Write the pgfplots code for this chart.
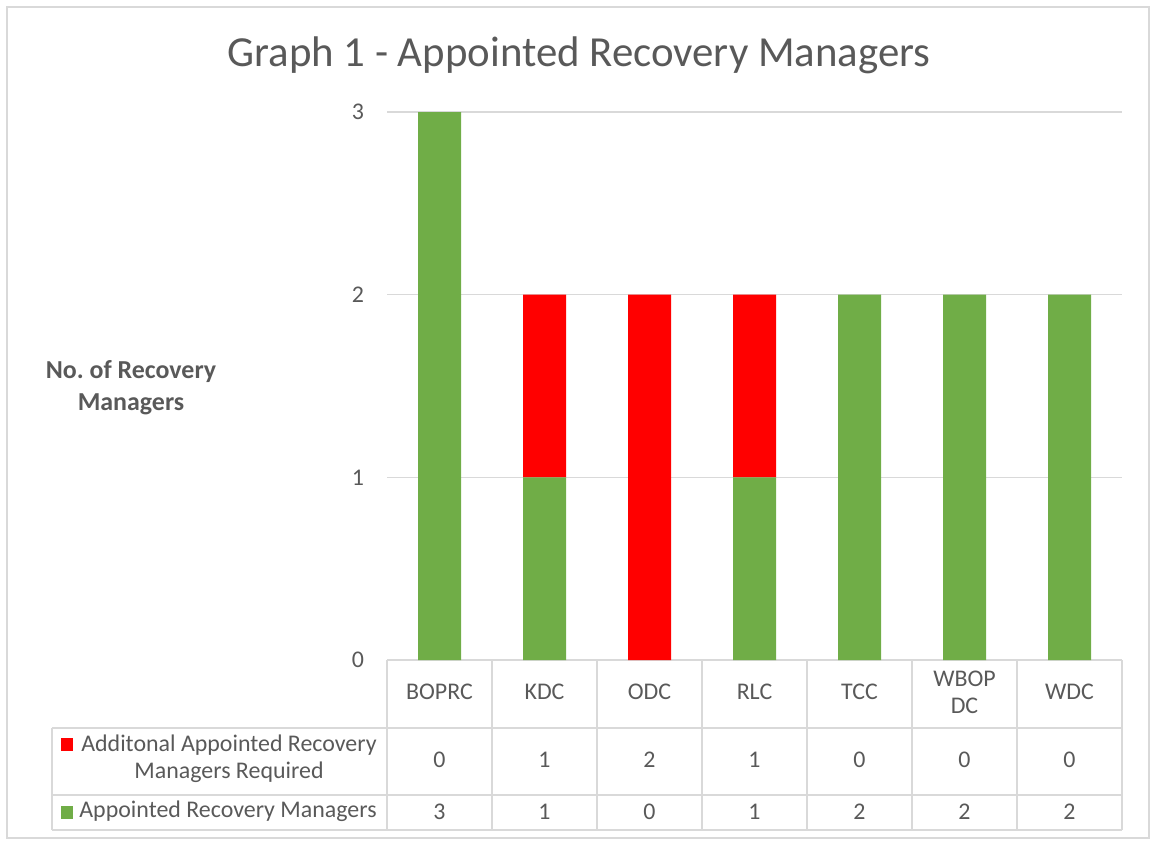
\documentclass[border=0pt]{standalone}
\usepackage{fontspec}
\setmainfont{Carlito}
\usepackage{pgfplots}
\pgfplotsset{compat=1.18}
\definecolor{appgreen}{HTML}{70AD47}
\definecolor{addred}{HTML}{FF0000}
\definecolor{txtgray}{HTML}{595959}
\definecolor{gridgray}{HTML}{D9D9D9}
\frenchspacing

\begin{document}
\begin{tikzpicture}
% layout in pixels of the reference (1px = 0.5bp), y downwards
\begin{scope}[x=0.5bp,y=-0.5bp]
\useasboundingbox (0,0) rectangle (1152,841);
\draw[gridgray, line width=0.75bp] (7,7) rectangle (1149,838);
\node[txtgray, font=\fontsize{21.5}{25}\selectfont] at (579,55)
  {Graph 1 - Appointed Recovery Managers};
\node[txtgray, font=\fontsize{13}{16}\bfseries, align=center] at (131,388)
  {No. of Recovery\\Managers};

% data table grid
\begin{scope}[gridgray, line width=0.75bp]
\draw (387,660) -- (1122,660);
\foreach \yy in {728,795,830} \draw (52,\yy) -- (1122,\yy);
\draw (52,728) -- (52,830);
\foreach \xx in {387,492,597,702,807,912,1017,1122} \draw (\xx,660) -- (\xx,830);
\end{scope}

\begin{scope}[txtgray, font=\fontsize{12}{13.5}\selectfont]
\foreach \name [count=\i from 0] in {BOPRC,KDC,ODC,RLC,TCC,{WBOP\\DC},WDC}
  \node[align=center] at (439.5+105*\i,692) {\name};
\foreach \v [count=\i from 0] in {0,1,2,1,0,0,0}
  \node at (439.5+105*\i,760) {\v};
\foreach \v [count=\i from 0] in {3,1,0,1,2,2,2}
  \node at (439.5+105*\i,812) {\v};
\fill[addred] (61,738) rectangle (73,751);
\fill[appgreen] (61,806) rectangle (73,819);
\node[align=center] at (229,759) {Additonal Appointed Recovery\\Managers Required};
\node[anchor=west, inner sep=0pt] at (79,811) {Appointed Recovery Managers};
\end{scope}
\end{scope}

\begin{axis}[
  at={(193.5bp,-330bp)}, anchor=south west,
  scale only axis, width=367.5bp, height=274bp,
  xmin=-0.5, xmax=6.5, ymin=0, ymax=3,
  ybar stacked, bar width=21.5bp,
  axis line style={draw=none},
  xtick=\empty, ytick={0,1,2,3},
  major tick length=0pt,
  ymajorgrids, grid style={gridgray, line width=0.75bp},
  /pgf/number format/assume math mode=true,
  yticklabel style={txtgray, font=\fontsize{12}{14}\selectfont, xshift=-8bp},
]
\addplot[fill=appgreen, draw=none] coordinates {(0,3) (1,1) (2,0) (3,1) (4,2) (5,2) (6,2)};
\addplot[fill=addred, draw=none] coordinates {(0,0) (1,1) (2,2) (3,1) (4,0) (5,0) (6,0)};
\end{axis}
\end{tikzpicture}
\end{document}
